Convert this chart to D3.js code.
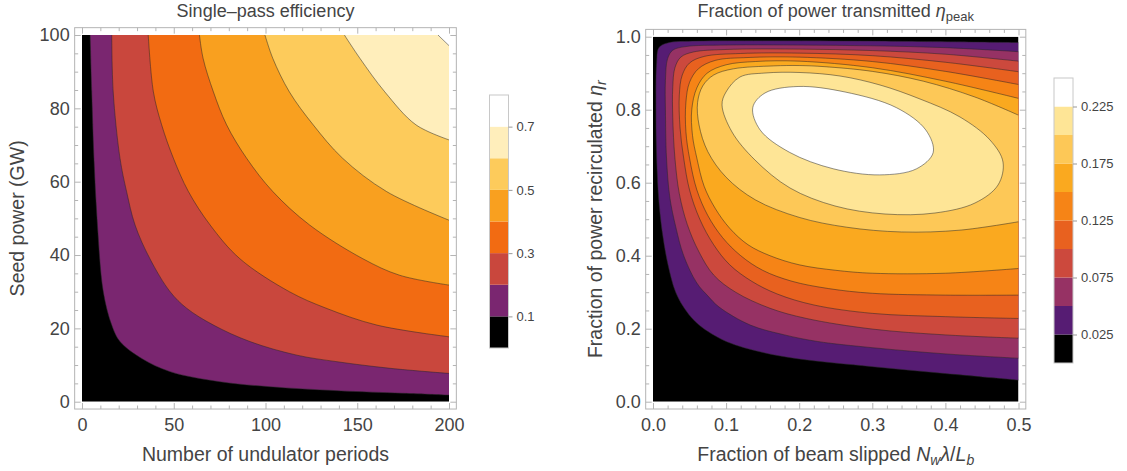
<!DOCTYPE html>
<html><head><meta charset="utf-8">
<script src="https://cdn.jsdelivr.net/npm/d3@7"></script>
<style>
body{margin:0;background:#fff;}
svg text{font-family:"Liberation Sans",Arial,sans-serif;fill:#444;}
</style></head><body>
<svg id="chart" width="1127" height="471"></svg>
<script>
// ---------------- LEFT PANEL DATA (N undulator periods, seed power GW) ----------------
const effLevels = [0.1, 0.2, 0.3, 0.4, 0.5, 0.6, 0.7];
const effColors = ["#000000", "#7a2670", "#c9473d", "#f26b12", "#f9a01f", "#fdcb5b", "#ffeebb", "#ffffff"];
const effLegendTicks = [0.1, 0.3, 0.5, 0.7];
const effXTicks = [0, 50, 100, 150, 200];
const effYTicks = [0, 20, 40, 60, 80, 100];
const eff_0_1 = [[4.4,100],[5.3,84.5],[6.5,66.4],[8.4,48.2],[11.6,30],[16.2,20.9],[20.7,16.4],[32.5,11.8],[48,8.2],[75,5.45],[102,4.1],[139,3.0],[175,2.3],[200,1.8]];
const eff_0_2 = [[16.2,100],[17,84.5],[20.7,66.4],[24.3,57.3],[28.9,48.2],[37,39],[48,30],[57,25.5],[71.6,20.9],[91.5,16.4],[117,12.7],[139,10.9],[168,9.1],[200,7.7]];
const eff_0_3 = [[36.1,100],[38.9,84.5],[43.4,75.5],[49.8,66.4],[58,57.3],[69.8,48.2],[86,39],[113,30],[133,25.5],[160.6,20.9],[200,17.7]];
const eff_0_4 = [[64,100],[66,93.6],[71.6,84.5],[78.8,75.5],[89.7,66.4],[104,57.3],[124,48.2],[153,39],[173,34.5],[200,31.8]];
const eff_0_5 = [[99.7,100],[104,93.6],[113,84.5],[126,75.5],[142,66.4],[166,57.3],[200,49.5]];
const eff_0_6 = [[143,100],[151.5,93.6],[165,84.5],[182,75.5],[200,71.4]];
const eff_0_7 = [[194,100],[200,97.1]];

// ---------------- RIGHT PANEL DATA (fraction slipped, eta_r) ----------------
const etaLevels = [0.025, 0.05, 0.075, 0.1, 0.125, 0.15, 0.175, 0.2, 0.225];
const etaColors = ["#000000", "#561c73", "#963264", "#cc493d", "#e8611f", "#f68416", "#faa91f", "#fdc857", "#fee596", "#ffffff"];
const etaLegendTicks = [0.025, 0.075, 0.125, 0.175, 0.225];
const etaXTicks = [0, 0.1, 0.2, 0.3, 0.4, 0.5];
const etaYTicks = [0, 0.2, 0.4, 0.6, 0.8, 1.0];
const eta_025 = [[0.5,0.984],[0.3,0.988],[0.15,0.989],[0.06,0.988],[0.02,0.983],[0.008,0.97],[0.005,0.93],[0.004,0.8],[0.005,0.667],[0.008,0.55],[0.013,0.46],[0.02,0.38],[0.031,0.30],[0.045,0.25],[0.063,0.21],[0.1,0.165],[0.15,0.135],[0.2,0.117],[0.3,0.096],[0.4,0.077],[0.5,0.059]];
const eta_050 = [[0.5,0.959],[0.4,0.970],[0.3,0.975],[0.2,0.977],[0.1,0.977],[0.045,0.973],[0.027,0.963],[0.02,0.94],[0.017,0.88],[0.017,0.8],[0.0185,0.667],[0.023,0.56],[0.031,0.48],[0.042,0.40],[0.06,0.325],[0.075,0.29],[0.09,0.26],[0.133,0.21],[0.18,0.183],[0.225,0.165],[0.3,0.148],[0.4,0.131],[0.5,0.119]];
const eta_075 = [[0.5,0.933],[0.4,0.952],[0.3,0.962],[0.2,0.966],[0.1,0.965],[0.055,0.958],[0.038,0.944],[0.03,0.915],[0.027,0.86],[0.027,0.78],[0.03,0.667],[0.036,0.57],[0.047,0.485],[0.063,0.41],[0.083,0.347],[0.113,0.30],[0.16,0.256],[0.21,0.228],[0.3,0.199],[0.4,0.183],[0.5,0.174]];
const eta_100 = [[0.5,0.904],[0.4,0.93],[0.3,0.948],[0.2,0.955],[0.12,0.954],[0.07,0.946],[0.05,0.928],[0.04,0.895],[0.036,0.84],[0.037,0.75],[0.042,0.667],[0.05,0.58],[0.064,0.5],[0.083,0.43],[0.105,0.375],[0.135,0.33],[0.17,0.295],[0.22,0.265],[0.3,0.242],[0.4,0.233],[0.5,0.228]];
const eta_125 = [[0.5,0.869],[0.4,0.905],[0.3,0.932],[0.2,0.944],[0.13,0.943],[0.085,0.935],[0.062,0.912],[0.05,0.875],[0.045,0.82],[0.045,0.74],[0.05,0.667],[0.06,0.58],[0.075,0.51],[0.095,0.45],[0.12,0.4],[0.15,0.36],[0.19,0.33],[0.24,0.31],[0.3,0.297],[0.4,0.292],[0.5,0.292]];
const eta_150 = [[0.5,0.831],[0.4,0.878],[0.3,0.915],[0.2,0.933],[0.14,0.932],[0.1,0.923],[0.074,0.9],[0.06,0.86],[0.053,0.8],[0.054,0.73],[0.06,0.667],[0.07,0.59],[0.085,0.53],[0.105,0.475],[0.13,0.43],[0.16,0.4],[0.2,0.375],[0.25,0.36],[0.3,0.352],[0.4,0.352],[0.5,0.365]];
const eta_175 = [[0.5,0.785],[0.44,0.835],[0.37,0.878],[0.3,0.905],[0.234,0.918],[0.2,0.921],[0.165,0.92],[0.11,0.912],[0.083,0.895],[0.068,0.865],[0.061,0.82],[0.063,0.758],[0.075,0.685],[0.1,0.615],[0.14,0.553],[0.2,0.505],[0.265,0.478],[0.34,0.465],[0.42,0.47],[0.5,0.493]];
const eta_200 = [[0.0944,0.8129],[0.0999,0.8485],[0.119,0.8896],[0.1532,0.9005],[0.2011,0.9019],[0.2558,0.8923],[0.3105,0.8677],[0.3653,0.8293],[0.42,0.78],[0.461,0.717],[0.4788,0.6567],[0.472,0.5937],[0.4405,0.5444],[0.3858,0.517],[0.3174,0.5142],[0.249,0.5362],[0.1874,0.5855],[0.1395,0.6622],[0.1081,0.7389]];
const eta_225 = [[0.3833,0.6827],[0.3602,0.6378],[0.3101,0.6214],[0.2466,0.6381],[0.1867,0.6833],[0.1465,0.7447],[0.1365,0.806],[0.1532,0.8458],[0.1984,0.8636],[0.2627,0.8485],[0.3331,0.8055],[0.3733,0.7441]];

const svg = d3.select("#chart");
const lineCol = "rgba(40,40,40,0.5)";
const frameCol = "#b4b4b4";

function drawFrameAxes(g, x, y, xTicks, yTicks, xMinor, yMinor, fmtX, fmtY) {
  const [dx0, dx1] = x.domain(), [dy0, dy1] = y.domain();
  const px = (dx1 - dx0) * 0.02, py = (dy1 - dy0) * 0.02;
  const fl = x(dx0 - px), fr = x(dx1 + px), fb = y(dy0 - py), ft = y(dy1 + py);
  g.append("rect").attr("x", fl).attr("y", ft).attr("width", fr - fl).attr("height", fb - ft)
    .attr("fill", "none").attr("stroke", frameCol).attr("stroke-width", 1);
  const mk = (axis, tr, vals, size, fmt, pad) => {
    const a = g.append("g").attr("transform", tr)
      .call(axis.tickValues(vals).tickSizeInner(-size).tickSizeOuter(0).tickPadding(pad).tickFormat(fmt));
    a.select(".domain").remove();
    a.selectAll("line").attr("stroke", frameCol);
    a.selectAll("text").attr("font-size", 18).attr("fill", "#444");
    return a;
  };
  mk(d3.axisBottom(x), `translate(0,${fb})`, xTicks, 6, fmtX, 9);
  mk(d3.axisBottom(x), `translate(0,${fb})`, xMinor, 3.5, () => "", 0);
  mk(d3.axisTop(x), `translate(0,${ft})`, xTicks, 6, () => "", 0);
  mk(d3.axisTop(x), `translate(0,${ft})`, xMinor, 3.5, () => "", 0);
  mk(d3.axisLeft(y), `translate(${fl},0)`, yTicks, 6, fmtY, 5);
  mk(d3.axisLeft(y), `translate(${fl},0)`, yMinor, 3.5, () => "", 0);
  mk(d3.axisRight(y), `translate(${fr},0)`, yTicks, 6, () => "", 0);
  mk(d3.axisRight(y), `translate(${fr},0)`, yMinor, 3.5, () => "", 0);
}

function drawLegend(levelsAll, colors, ticks, x0, yTop, yBot, fmt) {
  const lo = levelsAll[0], hi = levelsAll[levelsAll.length - 1];
  const s = d3.scaleLinear([lo, hi], [yBot, yTop]);
  const g = svg.append("g");
  const bands = d3.pairs(levelsAll);
  g.selectAll("rect.band").data(bands).join("rect")
    .attr("x", x0).attr("width", 19)
    .attr("y", d => s(d[1])).attr("height", d => s(d[0]) - s(d[1]))
    .attr("fill", (d, i) => colors[i]);
  g.append("rect").attr("x", x0).attr("y", yTop).attr("width", 19).attr("height", yBot - yTop)
    .attr("fill", "none").attr("stroke", "#c8c8c8").attr("stroke-width", 1);
  const a = g.append("g").attr("transform", `translate(${x0 + 19},0)`)
    .call(d3.axisRight(s).tickValues(ticks).tickSize(4).tickPadding(4).tickFormat(fmt));
  a.select(".domain").remove();
  a.selectAll("line").attr("stroke", "#999");
  a.selectAll("text").attr("font-size", 13).attr("fill", "#444");
}

const labelSize = 19.5;

// ================= LEFT PANEL =================
{
  const x = d3.scaleLinear([0, 200], [82, 449]);
  const y = d3.scaleLinear([0, 100], [401.7, 35]);
  const g = svg.append("g");
  g.append("clipPath").attr("id", "clipL").append("rect")
    .attr("x", x(0)).attr("y", y(100)).attr("width", x(200) - x(0)).attr("height", y(0) - y(100));
  const plot = g.append("g").attr("clip-path", "url(#clipL)");
  plot.append("rect").attr("x", x(0)).attr("y", y(100)).attr("width", x(200) - x(0)).attr("height", y(0) - y(100)).attr("fill", effColors[0]);
  const line = d3.line().x(d => x(d[0])).y(d => y(d[1])).curve(d3.curveCatmullRom.alpha(0.5));
  const contours = [eff_0_1, eff_0_2, eff_0_3, eff_0_4, eff_0_5, eff_0_6, eff_0_7];
  contours.forEach((c, i) => {
    plot.append("path").attr("d", line(c) + `L${x(200)},${y(100)}Z`).attr("fill", effColors[i + 1]);
  });
  contours.forEach((c, i) => {
    plot.append("path").attr("d", line(c)).attr("fill", "none").attr("stroke", lineCol).attr("stroke-width", 1);
  });
  drawFrameAxes(g, x, y, effXTicks, effYTicks, d3.range(0, 201, 10).filter(v => v % 50), d3.range(0, 101, 5).filter(v => v % 20), d3.format("d"), d3.format("d"));
  svg.append("text").attr("x", (x(0) + x(200)) / 2).attr("y", 17).attr("text-anchor", "middle").attr("font-size", 18).text("Single\u2013pass efficiency");
  svg.append("text").attr("x", (x(0) + x(200)) / 2).attr("y", 461).attr("text-anchor", "middle").attr("font-size", labelSize).text("Number of undulator periods");
  svg.append("text").attr("transform", `translate(24,${(y(0) + y(100)) / 2}) rotate(-90)`).attr("text-anchor", "middle").attr("font-size", labelSize).text("Seed power (GW)");
  drawLegend([0, ...effLevels, 0.8], effColors, effLegendTicks, 489.5, 95, 348, d3.format(".1f"));
}

// ================= RIGHT PANEL =================
{
  const x = d3.scaleLinear([0, 0.5], [653, 1018.5]);
  const y = d3.scaleLinear([0, 1], [401.7, 36.7]);
  const g = svg.append("g");
  g.append("clipPath").attr("id", "clipR").append("rect")
    .attr("x", x(0)).attr("y", y(1)).attr("width", x(0.5) - x(0)).attr("height", y(0) - y(1));
  const plot = g.append("g").attr("clip-path", "url(#clipR)");
  plot.append("rect").attr("x", x(0)).attr("y", y(1)).attr("width", x(0.5) - x(0)).attr("height", y(0) - y(1)).attr("fill", etaColors[0]);
  const line = d3.line().x(d => x(d[0])).y(d => y(d[1])).curve(d3.curveCatmullRom.alpha(0.5));
  const lineClosed = d3.line().x(d => x(d[0])).y(d => y(d[1])).curve(d3.curveCatmullRomClosed.alpha(0.5));
  const openC = [eta_025, eta_050, eta_075, eta_100, eta_125, eta_150, eta_175];
  const closedC = [eta_200, eta_225];
  openC.forEach((c, i) => {
    plot.append("path").attr("d", line(c) + "Z").attr("fill", etaColors[i + 1]);
  });
  closedC.forEach((c, i) => {
    plot.append("path").attr("d", lineClosed(c)).attr("fill", etaColors[openC.length + i + 1]);
  });
  openC.forEach(c => plot.append("path").attr("d", line(c)).attr("fill", "none").attr("stroke", lineCol).attr("stroke-width", 1));
  closedC.forEach(c => plot.append("path").attr("d", lineClosed(c)).attr("fill", "none").attr("stroke", lineCol).attr("stroke-width", 1));
  drawFrameAxes(g, x, y, etaXTicks, etaYTicks,
    d3.range(0, 26).map(v => v * 0.02).filter((v, i) => i % 5), d3.range(0, 21).map(v => v * 0.05).filter((v, i) => i % 4),
    d3.format(".1f"), d3.format(".1f"));
  const cx = (x(0) + x(0.5)) / 2;
  const t = svg.append("text").attr("x", cx).attr("y", 17).attr("text-anchor", "middle").attr("font-size", 18);
  t.append("tspan").text("Fraction of power transmitted ");
  t.append("tspan").attr("font-style", "italic").text("\u03b7");
  t.append("tspan").attr("font-size", 13).attr("dy", 4).text("peak");
  const xl = svg.append("text").attr("x", cx).attr("y", 461).attr("text-anchor", "middle").attr("font-size", labelSize);
  xl.append("tspan").text("Fraction of beam slipped ");
  xl.append("tspan").attr("font-style", "italic").text("N");
  xl.append("tspan").attr("font-style", "italic").attr("font-size", 14).attr("dy", 4).text("w");
  xl.append("tspan").attr("font-style", "italic").attr("dy", -4).text("\u03bb");
  xl.append("tspan").text("/");
  xl.append("tspan").attr("font-style", "italic").text("L");
  xl.append("tspan").attr("font-style", "italic").attr("font-size", 14).attr("dy", 4).text("b");
  const yl = svg.append("text").attr("transform", `translate(602,${(y(0) + y(1)) / 2}) rotate(-90)`).attr("text-anchor", "middle").attr("font-size", labelSize);
  yl.append("tspan").text("Fraction of power recirculated ");
  yl.append("tspan").attr("font-style", "italic").text("\u03b7");
  yl.append("tspan").attr("font-style", "italic").attr("font-size", 14).attr("dy", 4).text("r");
  drawLegend([0, ...etaLevels, 0.25], etaColors, etaLegendTicks, 1054, 78, 363, d3.format(".3f"));
}
</script>
</body></html>
